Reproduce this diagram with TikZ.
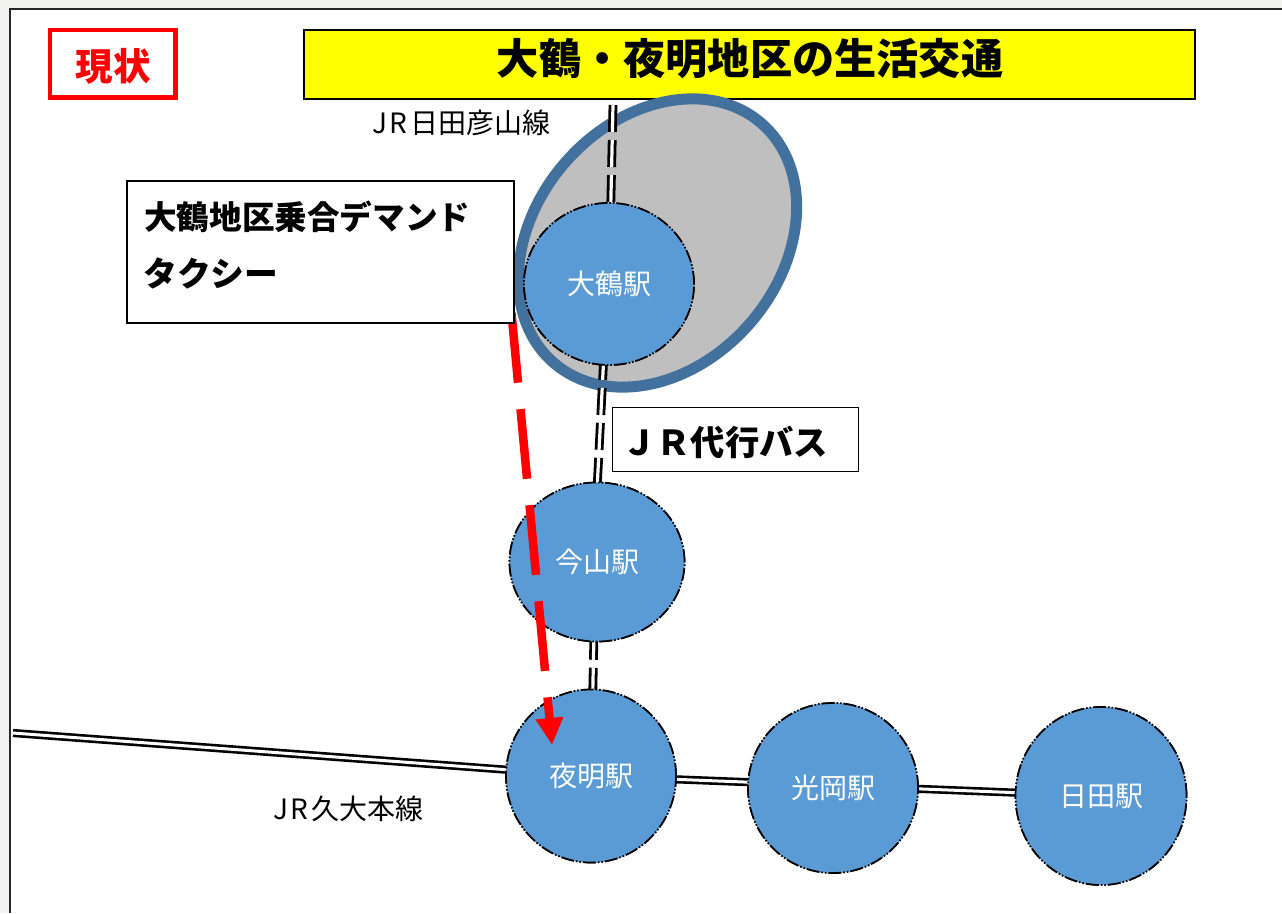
\documentclass[tikz,border=0pt]{standalone}
\usepackage{fontspec}
\setmainfont{Noto Sans CJK JP}
\usetikzlibrary{arrows.meta,shapes.geometric}
\definecolor{pagegrey}{HTML}{F2F2F0}
\definecolor{stationblue}{HTML}{5B9BD5}
\definecolor{ringblue}{HTML}{41719C}
\definecolor{ringfill}{HTML}{BFBFBF}
\definecolor{titleyellow}{HTML}{FFFF00}
\definecolor{markred}{HTML}{FF0000}
\tikzset{
  x=1pt,y=-1pt,
  station/.style={ellipse,inner sep=0pt,fill=stationblue,draw=black,line width=1.7pt,
    dash pattern=on 13pt off 2pt on 1.5pt off 2pt on 1.5pt off 2pt,
    text=white,font=\fontsize{28}{30}\selectfont},
  railsolid/.style={draw=black,double=white,double distance=3pt,line width=2.6pt},
  raildash/.style={draw=black,double=white,double distance=3.2pt,line width=2.8pt,dash pattern=on 27pt off 8pt},
  labeltext/.style={inner sep=0pt,font=\fontsize{28}{32}\selectfont},
  whitebox/.style={draw=black,fill=white,line width=1.2pt,inner sep=0pt},
}
\begin{document}
\begin{tikzpicture}
\useasboundingbox (0,0) rectangle (1282,913);
\fill[pagegrey] (0,0) rectangle (1282,913);
\fill[white] (9.5,8.5) rectangle (1282,913);
\draw[black!85,line width=2pt] (9.5,913) -- (9.5,8.5) -- (1282,8.5);
% title first: the ring lies over its lower edge
\node (title) [draw=black,fill=titleyellow,line width=1.6pt,minimum width=891pt,minimum height=69pt,inner sep=0pt] at (749.5,64.5) {};
\node (titletext) [inner sep=0pt,font=\bfseries\fontsize{42.2}{46}\selectfont] at (750,59) {大鶴・夜明地区の生活交通};
% ring area
\node (area) [ellipse,rotate=49,minimum width=317pt,minimum height=245pt,inner sep=0pt,
  fill=ringfill,draw=ringblue,line width=11pt] at (657.5,243) {};
% named coordinates
\coordinate (railtop) at (613,105);
\coordinate (railwest) at (13,733);
\coordinate (dstart) at (511.5,313);
\coordinate (dend) at (552,745);
\coordinate (busstart) at (604,353);
\coordinate (busbend) at (597,490);
% stations are placed first so the rails can run from their names
\node (oozuru) [station,minimum width=170pt,minimum height=162pt] at (609,284) {};
\node (imayama) [station,minimum width=175pt,minimum height=159pt] at (597,562) {};
\node (yoake) [station,minimum width=170pt,minimum height=173pt] at (591,776) {};
\node (mitsuoka) [station,minimum width=170pt,minimum height=170pt] at (833,788) {};
\node (hita) [station,minimum width=171pt,minimum height=178pt] at (1101,796) {};
% rails
\draw[raildash] (railtop) -- (oozuru.center);
\draw[raildash] (busstart) -- (busbend) -- (yoake.center);
\draw[railsolid] (railwest) -- (yoake.center) -- (hita.center);
% stations again, over the rails, with their names
\node [station,minimum width=170pt,minimum height=162pt] at (oozuru.center) {大鶴駅};
\node [station,minimum width=175pt,minimum height=159pt] at (imayama.center) {今山駅};
\node [station,minimum width=170pt,minimum height=173pt] at (yoake.center) {夜明駅};
\node [station,minimum width=170pt,minimum height=170pt] at (mitsuoka.center) {光岡駅};
\node [station,minimum width=171pt,minimum height=178pt] at (hita.center) {日田駅};
% demand taxi arrow
\draw[markred,line width=8.5pt,dash pattern=on 70pt off 26.5pt,
  -{Triangle[length=27pt,width=26pt]}] (dstart) -- (dend);
% boxes
\node (dtaxi) [whitebox,minimum width=387pt,minimum height=142pt] at (320.5,252) {};
\node (dtaxia) [anchor=west,inner sep=0pt,font=\bfseries\fontsize{32.6}{36}\selectfont] at (144,217) {大鶴地区乗合デマンド};
\node (dtaxib) [anchor=west,inner sep=0pt,font=\bfseries\fontsize{33.8}{36}\selectfont] at (143,273) {タクシー};
\node (bus) [whitebox,minimum width=246pt,minimum height=64pt,anchor=north west] at (612,407) {};
\node (bustext) [anchor=west,inner sep=0pt,font=\bfseries\fontsize{34.3}{36}\selectfont] at (622,442) {ＪＲ代行バス};
\node (genjo) [draw=markred,fill=white,line width=4.5pt,minimum width=125.5pt,minimum height=67.5pt,inner sep=0pt] at (112.5,63.5) {};
\node (genjotext) [inner sep=0pt,text=markred,font=\bfseries\fontsize{37.5}{40}\selectfont] at (113,66) {現状};
% line labels
\node (hikosan) [labeltext,anchor=west] at (372,123) {J\kern2ptR\kern4pt 日田彦山線};
\node (kyudai) [labeltext,anchor=west] at (273,809) {J\kern2ptR\kern4pt 久大本線};
\end{tikzpicture}
\end{document}
